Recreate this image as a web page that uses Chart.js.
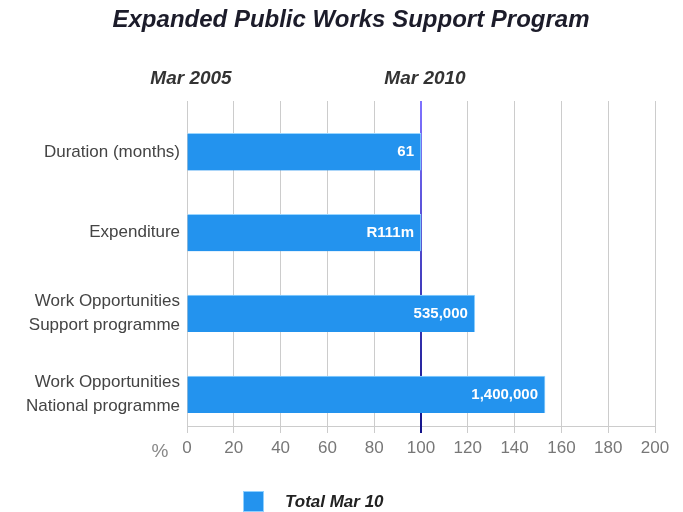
<!DOCTYPE html>
<html>
<head>
<meta charset="utf-8">
<script src="https://cdn.jsdelivr.net/npm/chart.js@4.4.1/dist/chart.umd.min.js"></script>
<style>
html,body{margin:0;padding:0;background:#fff;}
#wrap{width:683px;height:512px;position:relative;}
</style>
</head>
<body>
<div id="wrap"><canvas id="c" width="683" height="512"></canvas></div>
<script>
const chartTitle = 'Expanded Public Works Support Program';
const categories = [
  ['Duration (months)'],
  ['Expenditure'],
  ['Work Opportunities', 'Support programme'],
  ['Work Opportunities', 'National programme']
];
const percentValues = [100, 100, 123, 153];
const valueLabels = ['61', 'R111m', '535,000', '1,400,000'];
const seriesName = 'Total Mar 10';
const topTickValues = [0, 100];
const topTickLabels = ['Mar 2005', 'Mar 2010'];
const markerValue = 100;

const barColor = '#2393ee';

const decor = {
  id: 'decor',
  beforeDatasetsDraw(chart) {
    const {ctx, chartArea, scales} = chart;
    const x = scales.x.getPixelForValue(markerValue);
    const g = ctx.createLinearGradient(0, chartArea.top, 0, chartArea.bottom + 7);
    g.addColorStop(0, '#7f72ff');
    g.addColorStop(1, '#14148a');
    ctx.save();
    ctx.strokeStyle = g;
    ctx.lineWidth = 2;
    ctx.beginPath();
    ctx.moveTo(x, chartArea.top);
    ctx.lineTo(x, chartArea.bottom + 7);
    ctx.stroke();
    ctx.restore();
  },
  afterDatasetsDraw(chart) {
    const {ctx} = chart;
    const meta = chart.getDatasetMeta(0);
    ctx.save();
    ctx.fillStyle = '#ffffff';
    ctx.font = 'bold 15px "Liberation Sans", Arial, sans-serif';
    ctx.textAlign = 'right';
    ctx.textBaseline = 'middle';
    meta.data.forEach((bar, i) => {
      ctx.fillText(valueLabels[i], bar.x - 7, bar.y);
    });
    ctx.restore();
  },
  afterDraw(chart) {
    const {ctx} = chart;
    ctx.save();
    ctx.fillStyle = '#1c1c2a';
    ctx.font = 'italic bold 24px "Liberation Sans", Arial, sans-serif';
    ctx.textAlign = 'center';
    ctx.textBaseline = 'middle';
    ctx.fillText(chartTitle, 351, 20);
    ctx.fillStyle = '#888';
    ctx.font = '19px "Liberation Sans", Arial, sans-serif';
    ctx.fillText('%', 160, 452);
    ctx.fillStyle = barColor;
    ctx.fillRect(243, 491, 21, 21);
    ctx.strokeStyle = '#8fd0ff';
    ctx.lineWidth = 1;
    ctx.strokeRect(243.5, 491.5, 20, 20);
    ctx.fillStyle = '#222';
    ctx.font = 'italic bold 17px "Liberation Sans", Arial, sans-serif';
    ctx.textAlign = 'left';
    ctx.fillText(seriesName, 285, 502);
    ctx.restore();
  }
};

new Chart(document.getElementById('c'), {
  type: 'bar',
  data: {
    datasets: [{
      label: seriesName,
      data: percentValues.map((v, i) => ({x: v, y: i})),
      backgroundColor: barColor,
      borderColor: '#9ad6ff',
      borderWidth: {top: 1, bottom: 0, left: 0, right: 1},
      borderSkipped: false,
      barThickness: 37,
      xAxisID: 'x',
      yAxisID: 'y'
    }]
  },
  options: {
    indexAxis: 'y',
    responsive: false,
    animation: false,
    devicePixelRatio: 1,
    layout: {padding: {left: 0, right: 28, top: 0, bottom: 0}},
    plugins: {
      legend: {display: false},
      tooltip: {enabled: false},
      title: {display: false}
    },
    scales: {
      x: {
        type: 'linear',
        position: 'bottom',
        min: 0,
        max: 200,
        ticks: {
          stepSize: 20,
          color: '#777',
          padding: 5,
          font: {family: '"Liberation Sans", Arial, sans-serif', size: 17}
        },
        grid: {color: '#cccccc', tickLength: 7, lineWidth: 1},
        border: {display: true, color: '#cccccc'},
        afterFit(scale) { scale.height = 86; }
      },
      x2: {
        type: 'linear',
        position: 'top',
        min: 0,
        max: 200,
        grid: {display: false, drawTicks: false},
        border: {display: false},
        afterBuildTicks(scale) { scale.ticks = topTickValues.map(v => ({value: v})); },
        ticks: {
          color: '#333',
          padding: 11,
          labelOffset: 4,
          font: {family: '"Liberation Sans", Arial, sans-serif', size: 19, weight: 'bold', style: 'italic'},
          callback: (v, i) => topTickLabels[i]
        },
        afterFit(scale) { scale.height = 101; }
      },
      y: {
        type: 'linear',
        reverse: true,
        offset: false,
        min: -0.63,
        max: 3.39,
        grid: {display: false, drawTicks: false, offset: false},
        border: {display: false},
        afterBuildTicks(scale) { scale.ticks = categories.map((c, i) => ({value: i})); },
        ticks: {
          color: '#444',
          padding: 7,
          autoSkip: false,
          font: {family: '"Liberation Sans", Arial, sans-serif', size: 17, lineHeight: 1.4},
          callback: (v) => categories[v]
        },
        afterFit(scale) { scale.width = 187; }
      }
    }
  },
  plugins: [decor]
});
</script>
</body>
</html>
